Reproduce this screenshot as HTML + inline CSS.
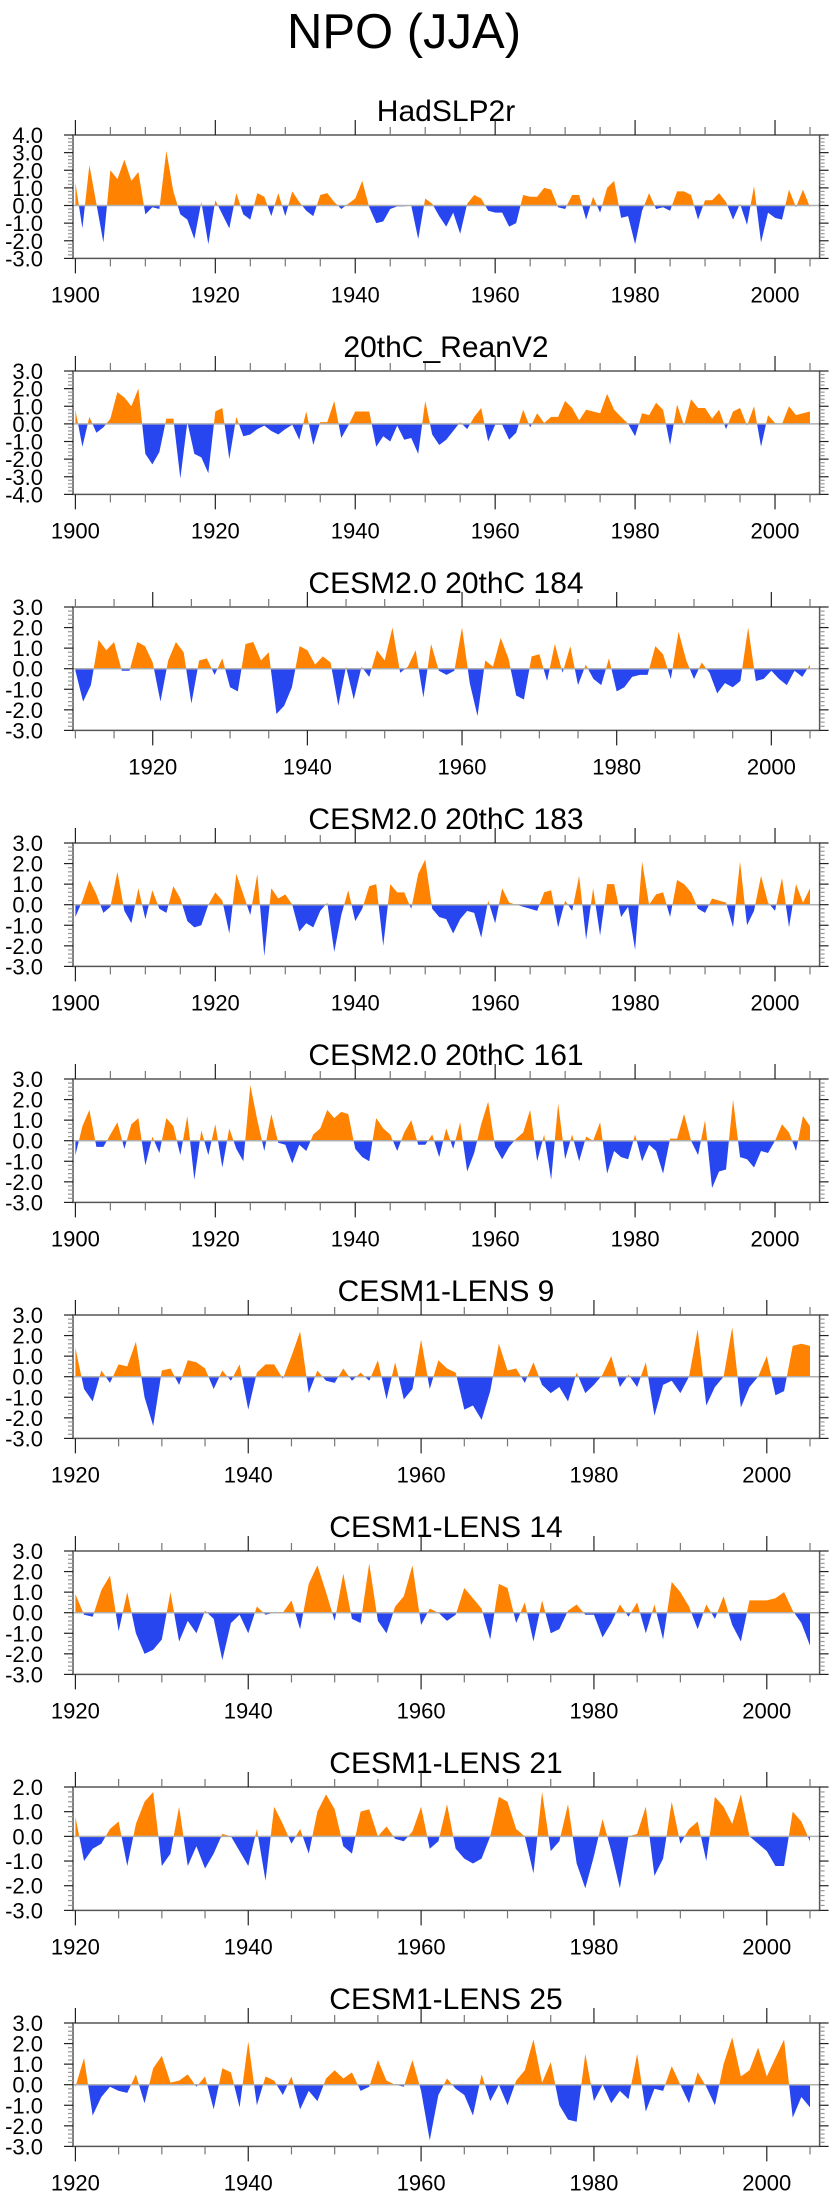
<!DOCTYPE html>
<html><head><meta charset="utf-8"><title>NPO (JJA)</title>
<style>html,body{margin:0;padding:0;background:#fff}svg{display:block}text{font-family:"Liberation Sans",Arial,sans-serif;fill:#000}</style>
</head><body>
<svg id="chart" width="840" height="2200" viewBox="0 0 840 2200" xmlns="http://www.w3.org/2000/svg">
<rect x="0" y="0" width="840" height="2200" fill="#fff"/>
<text x="404" y="48" font-size="49" text-anchor="middle">NPO (JJA)</text>
</svg>
<script>
const panelTitles = ["HadSLP2r","20thC_ReanV2","CESM2.0 20thC 184","CESM2.0 20thC 183","CESM2.0 20thC 161","CESM1-LENS 9","CESM1-LENS 14","CESM1-LENS 21","CESM1-LENS 25"];
const firstYears = [1900,1900,1910,1900,1900,1920,1920,1920,1920];
const yMaxes = [4,3,3,3,3,3,3,2,3];
const yMins = [-3,-4,-3,-3,-3,-3,-3,-3,-3];
const hadslp2r = [1.3,-1.3,2.3,0.1,-2.1,2.0,1.5,2.6,1.4,1.9,
-0.5,-0.1,-0.2,3.1,0.8,-0.5,-0.8,-1.9,0.2,-2.2,
0.3,-0.5,-1.3,0.7,-0.5,-0.8,0.7,0.5,-0.6,0.7,
-0.6,0.8,0.2,-0.3,-0.6,0.6,0.7,0.2,-0.2,0.1,
0.4,1.4,-0.1,-1.0,-0.9,-0.2,-0.05,-0.05,0.0,-1.9,
0.4,0.1,-0.6,-1.2,-0.4,-1.6,0.1,0.6,0.4,-0.3,
-0.4,-0.4,-1.2,-1.0,0.6,0.5,0.5,1.0,0.9,-0.1,
-0.2,0.6,0.6,-0.8,0.5,-0.4,1.0,1.4,-0.7,-0.6,
-2.2,-0.3,0.7,-0.2,-0.1,-0.3,0.8,0.8,0.6,-0.8,
0.3,0.3,0.7,0.2,-0.8,0.1,-1.1,1.1,-2.1,-0.4,
-0.7,-0.8,0.9,-0.1,0.9,-0.1];
const reanV2 = [0.8,-1.3,0.4,-0.5,-0.2,0.3,1.8,1.5,1.0,2.0,
-1.7,-2.3,-1.6,0.3,0.3,-3.1,0.1,-1.7,-1.9,-2.8,
0.7,0.9,-2.0,0.4,-0.7,-0.6,-0.3,-0.1,-0.4,-0.6,
-0.3,-0.05,-0.9,0.7,-1.2,0.1,0.1,1.3,-0.8,-0.1,
0.7,0.7,0.7,-1.3,-0.7,-1.0,-0.1,-0.9,-0.8,-1.7,
1.3,-0.6,-1.2,-0.9,-0.4,0.1,-0.3,0.4,0.9,-1.0,
-0.05,-0.05,-0.9,-0.5,0.8,-0.2,0.6,0.05,0.4,0.4,
1.3,0.9,0.2,0.8,0.7,0.6,1.7,0.8,0.4,0.0,
-0.7,0.6,0.5,1.2,0.8,-1.2,1.1,-0.1,1.4,0.9,
0.9,0.3,0.8,-0.3,0.7,0.9,-0.1,1.0,-1.3,0.5,
0.05,0.0,1.0,0.5,0.6,0.7];
const cesm184 = [-0.1,-1.6,-0.8,1.4,0.9,1.3,-0.1,-0.1,1.3,1.1,
0.3,-1.6,0.4,1.3,0.8,-1.7,0.4,0.5,-0.3,0.5,
-0.9,-1.1,1.2,1.3,0.4,0.8,-2.2,-1.8,-0.9,1.1,
0.9,0.2,0.6,0.3,-1.8,0.1,-1.5,0.1,-0.4,0.9,
0.4,2.0,-0.2,0.1,0.9,-1.4,1.2,-0.1,-0.3,-0.1,
2.0,-0.7,-2.3,0.4,0.1,1.5,0.5,-1.3,-1.5,0.6,
0.7,-0.6,1.2,-0.2,1.1,-0.8,0.2,-0.5,-0.8,0.5,
-1.1,-0.9,-0.4,-0.3,-0.3,1.1,0.7,-0.5,1.8,0.4,
-0.5,0.3,-0.2,-1.2,-0.7,-0.9,-0.6,2.0,-0.6,-0.5,
-0.1,-0.5,-0.8,-0.1,-0.4,0.2];
const cesm183 = [-0.6,0.2,1.2,0.5,-0.4,-0.1,1.6,-0.3,-0.9,0.8,
-0.7,0.7,-0.2,-0.4,0.9,0.3,-0.8,-1.1,-1.0,0.0,
0.6,0.2,-1.4,1.5,0.5,-0.5,1.5,-2.5,0.8,0.3,
0.5,0.0,-1.3,-0.9,-1.1,-0.3,0.1,-2.3,-0.5,0.7,
-0.8,-0.2,0.9,1.0,-2.0,1.0,0.6,0.6,-0.2,1.5,
2.2,-0.2,-0.6,-0.7,-1.4,-0.7,-0.3,-0.4,-1.6,0.2,
-0.9,0.8,0.1,0.0,-0.1,-0.2,-0.3,0.6,0.7,-1.1,
0.2,-0.3,1.4,-1.7,0.8,-1.5,1.0,1.0,-0.6,-0.1,
-2.2,2.1,0.0,0.5,0.6,-0.6,1.2,1.0,0.6,-0.2,
-0.4,0.3,0.2,0.1,-1.1,2.1,-1.0,-0.3,1.4,0.1,
-0.3,1.3,-1.1,1.0,0.1,0.8];
const cesm161 = [-0.7,0.7,1.5,-0.3,-0.3,0.3,0.9,-0.4,0.8,1.1,
-1.2,0.2,-0.6,1.1,0.7,-0.7,1.2,-1.9,0.5,-0.7,
0.8,-1.3,0.6,-0.4,-1.0,2.7,1.0,-0.5,1.3,-0.1,
-0.2,-1.1,-0.2,-0.5,0.3,0.6,1.5,1.1,1.4,1.3,
-0.4,-0.8,-1.0,1.1,0.6,0.3,-0.5,0.4,1.0,-0.2,
-0.2,0.3,-0.8,0.6,-0.4,0.9,-1.5,-0.6,0.8,1.9,
-0.3,-0.9,-0.3,0.1,0.4,1.5,-1.0,0.3,-1.9,1.8,
-0.9,0.3,-1.0,0.2,0.0,0.9,-1.6,-0.5,-0.8,-0.9,
0.3,-1.0,-0.2,-0.5,-1.6,0.1,0.1,1.3,0.0,-0.7,
1.0,-2.3,-1.5,-1.4,2.0,-0.8,-0.9,-1.3,-0.5,-0.6,
0.0,0.8,0.4,-0.5,1.2,0.7];
const lens9 = [1.4,-0.6,-1.2,0.3,-0.3,0.6,0.5,1.7,-1.0,-2.4,
0.3,0.4,-0.4,0.8,0.7,0.4,-0.6,0.3,-0.2,0.6,
-1.6,0.2,0.6,0.6,-0.1,1.0,2.2,-0.8,0.3,-0.2,
-0.3,0.4,-0.2,0.2,-0.2,0.8,-1.1,0.7,-1.1,-0.6,
1.8,-0.6,0.8,0.4,0.2,-1.6,-1.4,-2.1,-0.7,1.6,
0.3,0.4,-0.3,0.7,-0.4,-0.8,-0.5,-1.2,0.2,-0.8,
-0.4,0.1,1.0,-0.5,0.1,-0.5,0.7,-1.9,-0.4,-0.2,
-0.8,0.0,2.3,-1.4,-0.5,0.0,2.4,-1.5,-0.5,0.0,
1.0,-0.9,-0.7,1.5,1.6,1.5];
const lens14 = [0.9,-0.1,-0.2,1.1,1.8,-0.9,1.0,-1.0,-2.0,-1.8,
-1.3,1.0,-1.4,-0.4,-1.0,0.1,-0.3,-2.3,-0.5,-0.1,
-1.0,0.3,-0.1,0.0,0.0,0.6,-0.8,1.4,2.3,1.0,
-0.4,1.9,-0.3,-0.5,2.4,-0.4,-1.0,0.3,0.8,2.3,
-0.6,0.2,0.0,-0.4,-0.1,1.2,0.7,0.2,-1.3,1.4,
1.2,-0.5,0.5,-1.4,0.6,-1.0,-0.8,0.1,0.4,-0.1,
-0.1,-1.2,-0.5,0.4,-0.2,0.5,-1.0,0.4,-1.3,1.5,
1.0,0.3,-0.8,0.4,-0.3,0.8,-0.6,-1.4,0.6,0.6,
0.6,0.7,1.0,0.1,-0.5,-1.6];
const lens21 = [0.8,-1.0,-0.5,-0.3,0.3,0.6,-1.2,0.5,1.4,1.8,
-1.2,-0.7,1.2,-1.2,-0.4,-1.3,-0.7,0.1,0.0,-0.6,
-1.2,0.3,-1.8,1.2,0.5,-0.3,0.3,-0.7,1.0,1.7,
1.1,-0.4,-0.7,1.0,1.1,0.0,0.4,-0.1,-0.2,0.2,
1.2,-0.5,-0.2,1.3,-0.5,-0.9,-1.1,-0.9,0.0,1.6,
1.4,0.3,0.0,-1.5,1.8,-0.6,-0.2,1.3,-1.1,-2.1,
-0.8,0.7,-0.6,-2.1,0.0,0.1,1.2,-1.6,-0.9,1.4,
-0.3,0.3,0.6,-1.0,1.6,1.2,0.5,1.7,0.0,-0.3,
-0.6,-1.2,-1.2,1.0,0.6,-0.2];
const lens25 = [-0.1,1.3,-1.5,-0.6,-0.1,-0.3,-0.4,0.5,-0.9,0.8,
1.4,0.1,0.2,0.5,-0.1,0.4,-1.2,0.8,0.6,-1.1,
2.1,-1.0,0.4,0.2,-0.5,0.4,-1.2,-0.3,-0.8,0.3,
0.7,0.3,0.6,-0.3,-0.1,1.2,0.2,0.0,-0.1,1.2,
-0.3,-2.7,-0.5,0.3,-0.2,-0.5,-1.5,0.5,-0.8,0.0,
-1.0,0.2,0.7,2.2,0.1,1.1,-1.0,-1.7,-1.8,1.5,
-0.8,0.0,-0.9,-0.3,-0.7,1.5,-1.3,-0.2,-0.3,0.9,
0.0,-0.9,0.6,-0.1,-1.0,1.0,2.3,0.4,0.7,1.8,
0.4,1.3,2.2,-1.6,-0.6,-1.1];
const seriesList = [hadslp2r, reanV2, cesm184, cesm183, cesm161, lens9, lens14, lens21, lens25];

const NS = "http://www.w3.org/2000/svg";
const svg = document.getElementById("chart");
const BOX_L = 73, BOX_R = 819.6, BOX_H = 123.4, X0 = 75.4, X1 = 810;
function mk(tag, attrs, parent) {
  const e = document.createElementNS(NS, tag);
  for (const k in attrs) e.setAttribute(k, attrs[k]);
  (parent || svg).appendChild(e);
  return e;
}

seriesList.forEach((vals, p) => {
  const top = 135 + 236 * p, bottom = top + BOX_H;
  const first = firstYears[p];
  const perYear = (X1 - X0) / (2005 - first);
  const xs = yr => X0 + (yr - first) * perYear;
  const ys = v => top + (yMaxes[p] - v) / (yMaxes[p] - yMins[p]) * BOX_H;
  const g = mk("g", {});
  
  

  const t = mk("text", {x: 446, y: top - 14, "font-size": 30, "text-anchor": "middle"}, g);
  t.textContent = panelTitles[p];
  
  

  const pts = [];
  for (let i = 0; i < vals.length; i++) {
    const x = xs(first + i), v = vals[i];
    pts.push([x, v]);
    if (i < vals.length - 1) {
      const v2 = vals[i + 1];
      if ((v > 0 && v2 < 0) || (v < 0 && v2 > 0)) {
        const f = v / (v - v2);
        pts.push([x + f * perYear, 0]);
      }
    }
  }
  const y0 = ys(0);
  function poly(sign, color, name) {
    let d = "M" + pts[0][0].toFixed(2) + "," + y0.toFixed(2);
    pts.forEach(([x, v]) => {
      const vv = sign > 0 ? Math.max(v, 0) : Math.min(v, 0);
      d += "L" + x.toFixed(2) + "," + ys(vv).toFixed(2);
    });
    d += "L" + pts[pts.length - 1][0].toFixed(2) + "," + y0.toFixed(2) + "Z";
    const path = mk("path", {d: d, fill: color, stroke: "none"}, g);
    
    
  }
  poly(1, "#ff8200", "positive-fill");
  poly(-1, "#2846ef", "negative-fill");

  const zl = mk("line", {x1: BOX_L, x2: BOX_R, y1: y0, y2: y0, stroke: "#b0b0b0", "stroke-width": 1.5}, g);
  
  

  const box = mk("rect", {x: BOX_L, y: top, width: BOX_R - BOX_L, height: BOX_H, fill: "none", stroke: "#555", "stroke-width": 1.5}, g);
  
  

  for (let k = Math.round(yMins[p] * 5); k <= Math.round(yMaxes[p] * 5); k++) {
    const v = k / 5, y = ys(v), major = (k % 5 === 0);
    const len = major ? 9 : 5, col = major ? "#222" : "#999";
    mk("line", {x1: BOX_L - len, x2: BOX_L, y1: y, y2: y, stroke: col, "stroke-width": 1.2}, g);
    mk("line", {x1: BOX_R, x2: BOX_R + len, y1: y, y2: y, stroke: col, "stroke-width": 1.2}, g);
    if (major) {
      const lab = mk("text", {x: 43, y: y + 8, "font-size": 22, "text-anchor": "end"}, g);
      lab.textContent = v.toFixed(1);
      
      
    }
  }
  const xminYr = first - (X0 - BOX_L) / perYear, xmaxYr = first + (BOX_R - X0) / perYear;
  for (let yr = Math.ceil(xminYr / 5) * 5; yr <= xmaxYr; yr += 5) {
    const x = xs(yr), major = (yr % 20 === 0);
    const len = major ? 15 : 8, col = major ? "#222" : "#777";
    mk("line", {x1: x, x2: x, y1: top - len, y2: top, stroke: col, "stroke-width": 1.2}, g);
    mk("line", {x1: x, x2: x, y1: bottom, y2: bottom + len, stroke: col, "stroke-width": 1.2}, g);
    if (major) {
      const lab = mk("text", {x: x, y: bottom + 44, "font-size": 22, "text-anchor": "middle"}, g);
      lab.textContent = String(yr);
      
      
    }
  }
});
</script>
</body></html>
